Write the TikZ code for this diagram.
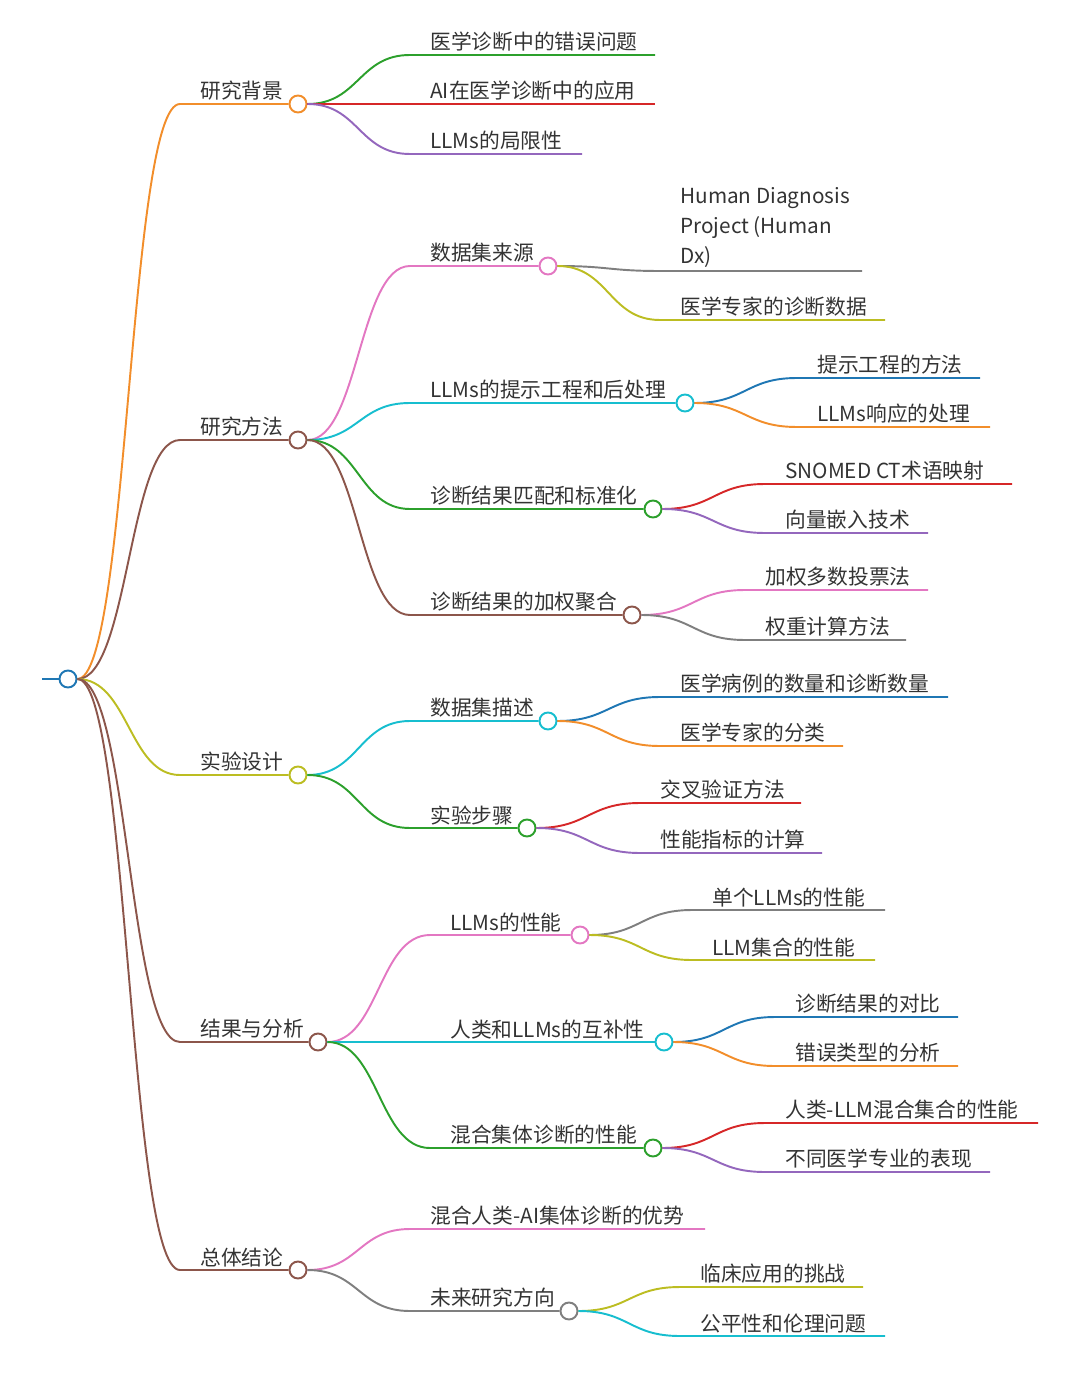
\documentclass[tikz,border=0pt]{standalone}
\usepackage{fontspec}
\setmainfont{Noto Sans CJK SC}
\usetikzlibrary{positioning}
\usetikzlibrary{calc}
\definecolor{cOrange}{HTML}{F28E2B}
\definecolor{cBrown}{HTML}{8C564B}
\definecolor{cOlive}{HTML}{BCBD22}
\definecolor{cGreen}{HTML}{2CA02C}
\definecolor{cRed}{HTML}{D62728}
\definecolor{cPurple}{HTML}{9467BD}
\definecolor{cPink}{HTML}{E377C2}
\definecolor{cGray}{HTML}{7F7F7F}
\definecolor{cCyan}{HTML}{17BECF}
\definecolor{cBlue}{HTML}{1F77B4}
\definecolor{cText}{HTML}{333333}
% parent, name, colour, start x, y, end x, text
\newcommand\mmleaf[7]{%
\coordinate (#2s) at (#4,#5);
\coordinate (#2) at (#6,#5);
\path (#1.east) -- coordinate[pos=.5](#2m) (#2s);
\draw[edge, #3] (#1.east) .. controls (#2m |- #1.east) and (#2m |- #2s) .. (#2s) -- (#2);
\node[lbl] (#2t) at ($(#2s)+(20,-3)$) {#7};
}
% same, ending in a circle
\newcommand\mmknot[7]{%
\coordinate (#2s) at (#4,#5);
\node[dot, draw=#3] (#2) at (#6,#5) {};
\path (#1.east) -- coordinate[pos=.5](#2m) (#2s);
\draw[edge, #3] (#1.east) .. controls (#2m |- #1.east) and (#2m |- #2s) .. (#2s) -- (#2.west);
\node[lbl] (#2t) at ($(#2s)+(20,-3)$) {#7};
}
\begin{document}
\begin{tikzpicture}[x=0.02cm, y=-0.02cm,
edge/.style={line width=1.1pt},
dot/.style={circle, fill=white, line width=1.1pt, minimum size=17\pgflinewidth, inner sep=0pt, minimum size=0.34cm},
lbl/.style={anchor=south west, inner sep=0pt, text=cText, font=\fontsize{11.8}{17}\selectfont, align=left},
]
\useasboundingbox (0,0) rectangle (1080,1381);
\coordinate (stub) at (42,679);
\node[dot, draw=cBlue] (root) at (68,679) {};
\draw[edge, cBlue] (stub) -- (root.west);

\mmknot{root}{bg}{cOrange}{180}{104}{298}{研究背景}
\mmknot{root}{me}{cBrown}{180}{440}{298}{研究方法}
\mmknot{root}{ex}{cOlive}{180}{775}{298}{实验设计}
\mmknot{root}{re}{cBrown}{180}{1042}{318}{结果与分析}
\mmknot{root}{co}{cBrown}{180}{1270}{298}{总体结论}

\mmleaf{bg}{bga}{cGreen}{410}{55}{655}{医学诊断中的错误问题}
\mmleaf{bg}{bgb}{cRed}{410}{104}{655}{AI在医学诊断中的应用}
\mmleaf{bg}{bgc}{cPurple}{410}{154}{582}{LLMs的局限性}

\mmknot{me}{mea}{cPink}{410}{266}{548}{数据集来源}
\mmknot{me}{meb}{cCyan}{410}{403}{685}{LLMs的提示工程和后处理}
\mmknot{me}{mec}{cGreen}{410}{509}{653}{诊断结果匹配和标准化}
\mmknot{me}{med}{cBrown}{410}{615}{632}{诊断结果的加权聚合}
\mmleaf{mea}{meaa}{cGray}{660}{271}{862}{Human Diagnosis\\Project (Human\\Dx)}
\mmleaf{mea}{meab}{cOlive}{660}{320}{885}{医学专家的诊断数据}
\mmleaf{meb}{meba}{cBlue}{797}{378}{980}{提示工程的方法}
\mmleaf{meb}{mebb}{cOrange}{797}{427}{990}{LLMs响应的处理}
\mmleaf{mec}{meca}{cRed}{765}{484}{1012}{SNOMED CT术语映射}
\mmleaf{mec}{mecb}{cPurple}{765}{533}{928}{向量嵌入技术}
\mmleaf{med}{meda}{cPink}{745}{590}{928}{加权多数投票法}
\mmleaf{med}{medb}{cGray}{745}{640}{906}{权重计算方法}

\mmknot{ex}{exa}{cCyan}{410}{721}{548}{数据集描述}
\mmknot{ex}{exb}{cGreen}{410}{828}{527}{实验步骤}
\mmleaf{exa}{exaa}{cBlue}{660}{697}{948}{医学病例的数量和诊断数量}
\mmleaf{exa}{exab}{cOrange}{660}{746}{843}{医学专家的分类}
\mmleaf{exb}{exba}{cRed}{640}{803}{801}{交叉验证方法}
\mmleaf{exb}{exbb}{cPurple}{640}{853}{822}{性能指标的计算}

\mmknot{re}{rea}{cPink}{430}{935}{580}{LLMs的性能}
\mmknot{re}{reb}{cCyan}{430}{1042}{664}{人类和LLMs的互补性}
\mmknot{re}{rec}{cGreen}{430}{1148}{653}{混合集体诊断的性能}
\mmleaf{rea}{reaa}{cGray}{692}{910}{885}{单个LLMs的性能}
\mmleaf{rea}{reab}{cOlive}{692}{960}{875}{LLM集合的性能}
\mmleaf{reb}{reba}{cBlue}{775}{1017}{958}{诊断结果的对比}
\mmleaf{reb}{rebb}{cOrange}{775}{1066}{958}{错误类型的分析}
\mmleaf{rec}{reca}{cRed}{765}{1123}{1038}{人类-LLM混合集合的性能}
\mmleaf{rec}{recb}{cPurple}{765}{1172}{990}{不同医学专业的表现}

\mmleaf{co}{coa}{cPink}{410}{1229}{705}{混合人类-AI集体诊断的优势}
\mmknot{co}{cob}{cGray}{410}{1311}{569}{未来研究方向}
\mmleaf{cob}{coba}{cOlive}{680}{1287}{863}{临床应用的挑战}
\mmleaf{cob}{cobb}{cCyan}{680}{1336}{885}{公平性和伦理问题}
\end{tikzpicture}
\end{document}
